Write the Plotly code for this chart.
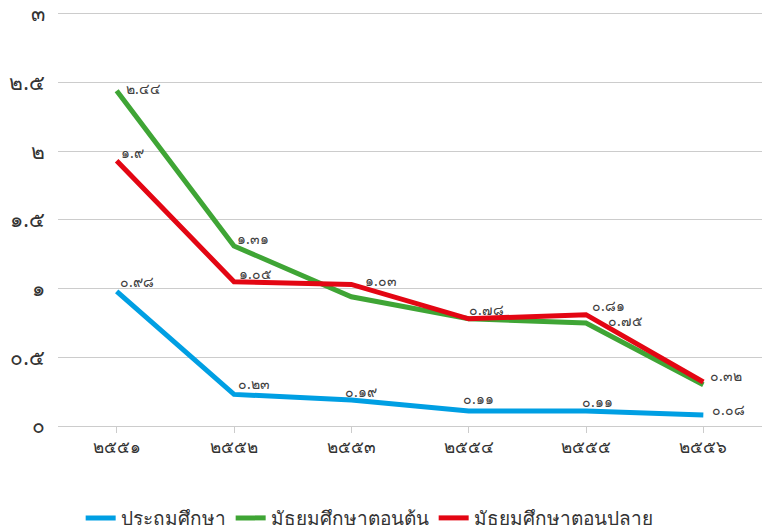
import plotly.graph_objects as go

years = ["๒๕๕๑", "๒๕๕๒", "๒๕๕๓", "๒๕๕๔", "๒๕๕๕", "๒๕๕๖"]
series_names = ["ประถมศึกษา", "มัธยมศึกษาตอนต้น", "มัธยมศึกษาตอนปลาย"]
primary = [0.98, 0.23, 0.19, 0.11, 0.11, 0.08]
lower_sec = [2.44, 1.31, 0.94, 0.78, 0.75, 0.30]
upper_sec = [1.93, 1.05, 1.03, 0.78, 0.81, 0.32]
primary_labels = ["๐.๙๘", "๐.๒๓", "๐.๑๙", "๐.๑๑", "๐.๑๑", "๐.๐๘"]
lower_labels = ["๒.๔๔", "๑.๓๑", "", "๐.๗๘", "๐.๗๕", ""]
upper_labels = ["๑.๙", "๑.๐๕", "๑.๐๓", "", "๐.๘๑", "๐.๓๒"]
colors = ["#009FE3", "#3FA535", "#E30613"]
ytick_vals = [0, 0.5, 1, 1.5, 2, 2.5, 3]
ytick_text = ["๐", "๐.๕", "๑", "๑.๕", "๒", "๒.๕", "๓"]

# label offsets (pixels, dx right, dy up) for each point
primary_off = [(1, 10), (2, 11), (-8, 8), (-8, 12), (-6, 9), (7, 6)]
lower_off = [(7, 2), (1, 7), (0, 0), (-2, 9), (20, 2), (0, 0)]
upper_off = [(2, 8), (3, 8), (12, 4), (0, 0), (4, 9), (5, 7)]

fig = go.Figure()
for name, vals, col in zip(series_names, [primary, lower_sec, upper_sec], colors):
    fig.add_trace(go.Scatter(
        x=years, y=vals, name=name, mode="lines",
        line=dict(color=col, width=5),
    ))

for vals, labs, offs in [(primary, primary_labels, primary_off),
                         (lower_sec, lower_labels, lower_off),
                         (upper_sec, upper_labels, upper_off)]:
    for xv, yv, lab, (dx, dy) in zip(years, vals, labs, offs):
        if not lab:
            continue
        fig.add_annotation(x=xv, y=yv, text=lab, showarrow=False,
                           xanchor="left", yanchor="middle",
                           xshift=dx, yshift=dy,
                           font=dict(size=14, color="#404040"))

fig.update_layout(
    width=762, height=531,
    margin=dict(l=58, r=0, t=11, b=105, autoexpand=False),
    plot_bgcolor="white", paper_bgcolor="white",
    font=dict(family="Noto Sans, DejaVu Sans, sans-serif", color="#333333"),
    showlegend=True,
    legend=dict(orientation="h", x=0.442, xanchor="center", y=-0.176, yanchor="top",
                font=dict(size=19, color="#333333")),
    xaxis=dict(type="category", showgrid=False, showline=True, linecolor="#cccccc",
               ticks="outside", ticklen=6, tickcolor="#cccccc", automargin=False,
               tickfont=dict(size=17, color="#333333"), range=[-0.5, 5.5]),
    yaxis=dict(range=[0, 3.02], tickvals=ytick_vals, ticktext=ytick_text, automargin=False,
               showgrid=True, gridcolor="#cccccc", zeroline=False, ticklabeloverflow="allow",
               tickfont=dict(size=21, color="#333333"), ticks="", ticklabelstandoff=12),
)

fig.write_html("out.html", config={"displayModeBar": False},
               post_script="document.body.style.margin='0';")
